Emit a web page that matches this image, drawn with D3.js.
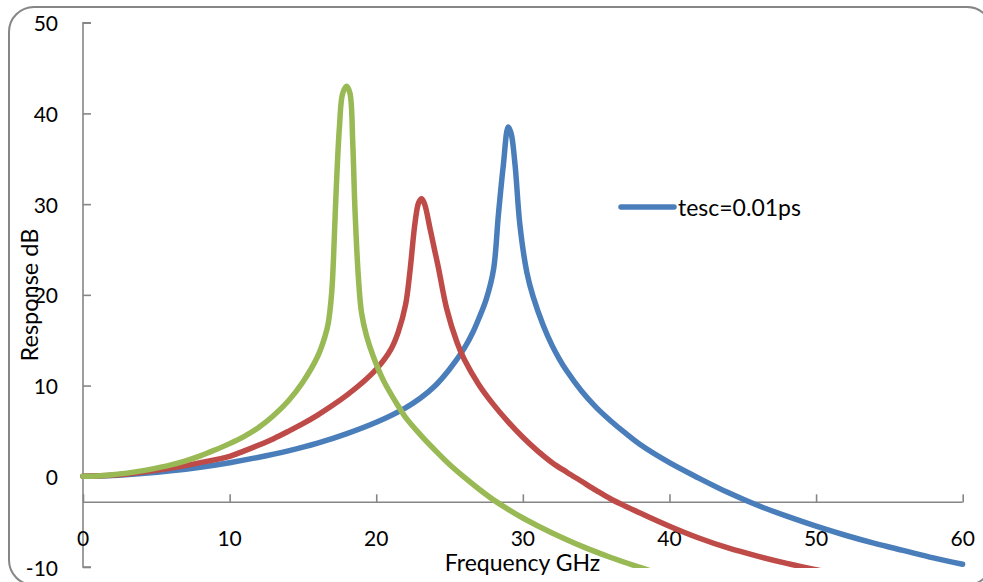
<!DOCTYPE html>
<html>
<head>
<meta charset="utf-8">
<script src="https://cdn.jsdelivr.net/npm/d3@7"></script>
<style>
  html, body { margin: 0; padding: 0; background: #fff; }
  svg text { font-family: Lato, "Open Sans", sans-serif; fill: #000; }
</style>
</head>
<body>
<svg id="chart" width="983" height="582"></svg>
<script>
// ---------- data ----------
const xTicks = [0, 10, 20, 30, 40, 50, 60];
const yTicks = [-10, 0, 10, 20, 30, 40, 50];
const xTitle = "Frequency GHz";
const yTitle = "Response dB";
const legendLabels = ["tesc=0.01ps"];

const blueFreq = [0,2,4,6,8,10,12,14,16,18,20,22,23,24,25,26,26.6,27,27.5,28,28.33,28.67,29,29.2,29.47,29.8,30.27,30.7,31.4,32,32.5,33,34,35,36,37,38,40,42,44,46,48,50,52,54,56,58,60];
const blueDb   = [0,0.08,0.3,0.6,1.0,1.5,2.1,2.8,3.65,4.7,5.95,7.55,8.6,9.95,11.8,14.1,15.9,17.4,19.5,22.8,28.8,34.3,38.5,37.8,34.3,27.7,22.5,19.8,16.6,14.4,12.9,11.6,9.4,7.6,6.1,4.75,3.5,1.5,-0.2,-1.8,-3.2,-4.4,-5.5,-6.5,-7.4,-8.2,-9.0,-9.7];

const redFreq = [0,2,4,6,8,10,11,12,13,14,15,16,17,18,19,20,21,21.5,22,22.3,22.65,22.9,23.1,23.3,23.67,24,24.24,24.8,25.5,26,27,28,29,30,31,32,33,34,35,36,37,38,40,42,44,46,48,50,52];
const redDb   = [0,0.12,0.45,0.9,1.5,2.2,2.8,3.45,4.15,4.95,5.8,6.75,7.8,8.95,10.25,11.8,14.0,15.9,18.9,22.6,28.0,30.2,30.6,30.0,27.3,24.8,23.0,18.5,14.8,12.9,10.1,7.9,6.0,4.3,2.8,1.5,0.45,-0.55,-1.55,-2.5,-3.3,-4.05,-5.5,-6.8,-7.9,-8.8,-9.6,-10.3,-11.0];

const greenFreq = [0,1,2,3,4,5,6,7,8,9,10,11,12,13,14,15,16,16.5,16.73,16.96,17.08,17.26,17.49,17.71,17.99,18.21,18.4,18.55,18.78,19.0,19.35,19.8,20.48,21.4,22,23,24,25,26,27,28,29,30,31,32,34,36,38,40];
const greenDb   = [0,0.04,0.17,0.35,0.6,0.9,1.25,1.7,2.25,2.9,3.6,4.4,5.4,6.7,8.3,10.4,13.2,15.4,16.9,20.2,23.8,31.2,38.5,42.2,43.0,42.2,36.7,29.4,22.0,18.0,15.4,13.2,10.6,8.0,6.5,4.6,2.9,1.3,-0.1,-1.4,-2.6,-3.65,-4.6,-5.45,-6.25,-7.7,-8.95,-10.05,-11.1];

// ---------- layout ----------
const svg = d3.select("#chart");
const pLeft = 83, pRight = 962.7, pTop = 22.7, pBottom = 567;
const xAxisAt = -2.87;           // value where horizontal axis crosses
const axisColor = "#868686";

const x = d3.scaleLinear().domain([0, 60]).range([pLeft, pRight]);
const y = d3.scaleLinear().domain([-10, 50]).range([pBottom, pTop]);

// outer rounded border
svg.append("rect")
  .attr("x", 9).attr("y", 7)
  .attr("width", 983).attr("height", 578)
  .attr("rx", 25).attr("ry", 25)
  .attr("fill", "#fff")
  .attr("stroke", axisColor).attr("stroke-width", 2);

// clip
svg.append("defs").append("clipPath").attr("id", "plotclip")
  .append("rect").attr("x", pLeft - 3).attr("y", pTop - 3)
  .attr("width", pRight - pLeft + 6).attr("height", pBottom - pTop + 4);

// y axis
const yAxis = d3.axisRight(y).tickValues(yTicks).tickSize(8).tickFormat("");
const gy = svg.append("g").attr("transform", `translate(${pLeft},0)`).call(yAxis);
gy.select(".domain").attr("d", `M8,${pTop}H0V${pBottom}H8`);
gy.selectAll("path,line").attr("stroke", axisColor).attr("stroke-width", 1.6);

svg.append("g").selectAll("text").data(yTicks).join("text")
  .attr("x", 58).attr("y", d => y(d))
  .attr("text-anchor", "end").attr("dominant-baseline", "central")
  .style("font-size", "21px")
  .text(d => d);

// x axis
const xAxis = d3.axisTop(x).tickValues(xTicks).tickSize(8).tickFormat("");
const gx = svg.append("g").attr("transform", `translate(0,${y(xAxisAt)})`).call(xAxis);
gx.select(".domain").attr("d", `M${pLeft},0H${pRight}`);
gx.selectAll("path,line").attr("stroke", axisColor).attr("stroke-width", 1.6);

svg.append("g").selectAll("text").data(xTicks).join("text")
  .attr("x", d => x(d)).attr("y", 537.5)
  .attr("text-anchor", "middle").attr("dominant-baseline", "central")
  .style("font-size", "21px")
  .text(d => d);

// titles
svg.append("text").attr("x", 522.5).attr("y", 571)
  .attr("text-anchor", "middle").style("font-size", "23px").text(xTitle);
svg.append("text")
  .attr("transform", `translate(38,295) rotate(-90)`)
  .attr("text-anchor", "middle").style("font-size", "23.5px").text(yTitle);

// series
const series = [
  { f: blueFreq, v: blueDb, color: "#4a7ebb" },
  { f: redFreq, v: redDb, color: "#be4b48" },
  { f: greenFreq, v: greenDb, color: "#98b954" }
];
const line = d3.line().x(d => x(d[0])).y(d => y(d[1])).curve(d3.curveCatmullRom.alpha(0.5));
const gLines = svg.append("g").attr("clip-path", "url(#plotclip)");
series.forEach(s => {
  gLines.append("path")
    .datum(s.f.map((f, i) => [f, s.v[i]]))
    .attr("d", line)
    .attr("fill", "none")
    .attr("stroke", s.color)
    .attr("stroke-width", 5.5)
    .attr("stroke-linejoin", "round")
    .attr("stroke-linecap", "round");
});

// legend (single entry)
const lg = svg.append("g");
lg.append("line").attr("x1", 621).attr("x2", 674).attr("y1", 207).attr("y2", 207)
  .attr("stroke", series[0].color).attr("stroke-width", 5.5).attr("stroke-linecap", "round");
lg.append("text").attr("x", 678).attr("y", 207).attr("dominant-baseline", "central")
  .style("font-size", "23px").text(legendLabels[0]);
</script>
</body>
</html>
